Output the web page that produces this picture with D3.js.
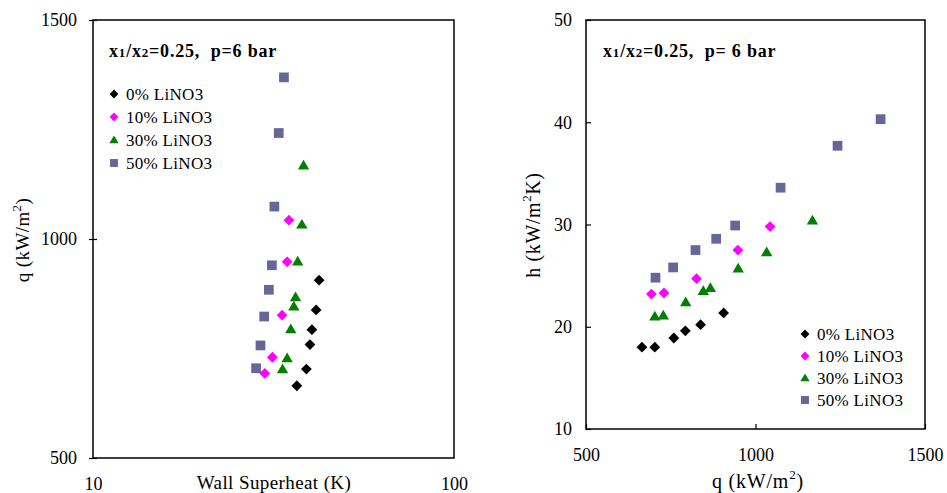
<!DOCTYPE html>
<html>
<head>
<meta charset="utf-8">
<script src="https://cdn.jsdelivr.net/npm/d3@7"></script>
<style>
  html, body { margin: 0; padding: 0; background: #fff; }
  svg { display: block; font-family: "Liberation Serif", "Times New Roman", serif; }
</style>
</head>
<body>
<svg id="chart" width="947" height="493"></svg>
<script>
// Series labels
const seriesNames = ["0% LiNO3", "10% LiNO3", "30% LiNO3", "50% LiNO3"];

// Heat flux q (kW/m2) per series
const q0  = [665, 703, 759, 793, 838, 906];
const q10 = [693, 730, 826, 948, 1043];
const q30 = [703, 728, 794, 846, 867, 949, 1033, 1168];
const q50 = [705, 757, 823, 884, 940, 1074, 1242, 1369];

// Wall superheat (K) per series
const dT0  = [36.7, 39.0, 39.9, 40.4, 41.5, 42.3];
const dT10 = [29.9, 31.4, 33.4, 34.5, 34.9];
const dT30 = [33.5, 34.5, 35.3, 36.0, 36.4, 36.9, 37.9, 38.3];
const dT50 = [28.3, 29.1, 29.8, 30.7, 31.3, 31.8, 32.7, 33.8];

// Heat transfer coefficient h (kW/m2K) per series
const h0  = [18.0, 18.0, 18.9, 19.6, 20.2, 21.35];
const h10 = [23.2, 23.3, 24.7, 27.5, 29.8];
const h30 = [21.0, 21.1, 22.4, 23.5, 23.8, 25.7, 27.3, 30.4];
const h50 = [24.8, 25.8, 27.5, 28.6, 29.9, 33.6, 37.7, 40.3];

// Tick values
const leftXTicks = [10, 100];
const leftYTicks = [500, 1000, 1500];
const rightXTicks = [500, 1000, 1500];
const rightYTicks = [10, 20, 30, 40, 50];

const colors = ["#000000", "#ff00ff", "#008000", "#666699"];
const shapes = ["diamond", "diamond", "triangle", "square"];

const qSets = [q0, q10, q30, q50];
const dTSets = [dT0, dT10, dT30, dT50];
const hSets = [h0, h10, h30, h50];

const svg = d3.select("#chart");
const plain = d3.format("d");

function markerPath(shape, s) {
  if (shape === "diamond") return `M0,${-s}L${s},0L0,${s}L${-s},0Z`;
  if (shape === "triangle") return `M0,${-s * 1.05}L${s * 1.05},${s * 0.75}L${-s * 1.05},${s * 0.75}Z`;
  return `M${-s * 0.9},${-s * 0.9}H${s * 0.9}V${s * 0.9}H${-s * 0.9}Z`;
}

function drawMarkers(g, xs, ys, x, y, i) {
  const pts = xs.map((v, k) => [v, ys[k]]);
  g.selectAll(null).data(pts).enter().append("path")
    .attr("d", markerPath(shapes[i], 5.4))
    .attr("transform", d => `translate(${x(d[0])},${y(d[1])})`)
    .attr("fill", colors[i]);
}

function frame(g, x0, x1, y0, y1) {
  g.append("rect").attr("x", x0).attr("y", y0)
    .attr("width", x1 - x0).attr("height", y1 - y0)
    .attr("fill", "none").attr("stroke", "#000").attr("stroke-width", 1.5);
}

function annotation(g, x, y, tail) {
  const t = g.append("text").attr("x", x).attr("y", y)
    .attr("font-size", 18).attr("font-weight", "bold").attr("letter-spacing", 0.8);
  t.append("tspan").text("x");
  t.append("tspan").attr("font-size", 13).text("1");
  t.append("tspan").text("/x");
  t.append("tspan").attr("font-size", 13).text("2");
  t.append("tspan").text(tail);
}

function legend(g, x, y, step) {
  seriesNames.forEach((name, i) => {
    g.append("path").attr("d", markerPath(shapes[i], 4.4))
      .attr("transform", `translate(${x},${y + i * step})`)
      .attr("fill", colors[i]);
    g.append("text").attr("x", x + 12).attr("y", y + i * step + 5.5)
      .attr("font-size", 17).attr("letter-spacing", 0.3).text(name);
  });
}

function styleTicks(ax) {
  ax.selectAll("text").attr("font-size", 18).attr("font-family", "Liberation Serif").attr("fill", "#000");
}

// ---------- Left panel: q vs wall superheat ----------
const L = { left: 93, right: 454, top: 20, bottom: 458 };
const xL = d3.scaleLog().domain([10, 100]).range([L.left, L.right]);
const yL = d3.scaleLinear().domain([500, 1500]).range([L.bottom, L.top]);
const gL = svg.append("g");

frame(gL, L.left, L.right, L.top, L.bottom);

const axLY = gL.append("g").attr("transform", `translate(${L.left},0)`)
  .call(d3.axisLeft(yL).tickValues(leftYTicks).tickFormat(plain).tickSize(4).tickSizeOuter(0).tickPadding(12));
axLY.select(".domain").remove();
axLY.selectAll(".tick line").attr("x2", 4).attr("x1", -4).attr("stroke-width", 1.2);
styleTicks(axLY);

const axLX = gL.append("g").attr("transform", `translate(0,${L.bottom})`)
  .call(d3.axisBottom(xL).tickValues(leftXTicks).tickFormat(plain).tickSize(0).tickPadding(19));
axLX.select(".domain").remove();
styleTicks(axLX);

gL.append("text").attr("x", 274).attr("y", 489).attr("text-anchor", "middle")
  .attr("font-size", 19).attr("letter-spacing", 0.4).text("Wall Superheat (K)");

const yTitleL = gL.append("text").attr("transform", "translate(29,240) rotate(-90)")
  .attr("text-anchor", "middle").attr("font-size", 19).attr("letter-spacing", 0.4);
yTitleL.append("tspan").text("q (kW/m");
yTitleL.append("tspan").attr("font-size", 13).attr("dy", -8).text("2");
yTitleL.append("tspan").attr("dy", 8).text(")");

annotation(gL, 109, 57, "=0.25,\u00a0\u00a0p=6 bar");
legend(gL, 114, 94, 23);

[0, 1, 2, 3].forEach(i => drawMarkers(gL, dTSets[i], qSets[i], xL, yL, i));

// ---------- Right panel: h vs q ----------
const R = { left: 586, right: 925, top: 20, bottom: 429 };
const xR = d3.scaleLinear().domain([500, 1500]).range([R.left, R.right]);
const yR = d3.scaleLinear().domain([10, 50]).range([R.bottom, R.top]);
const gR = svg.append("g");

frame(gR, R.left, R.right, R.top, R.bottom);

const axRY = gR.append("g").attr("transform", `translate(${R.left},0)`)
  .call(d3.axisLeft(yR).tickValues(rightYTicks).tickFormat(plain).tickSize(-5).tickSizeOuter(0).tickPadding(14));
axRY.select(".domain").remove();
axRY.selectAll(".tick line").attr("stroke-width", 1.2);
styleTicks(axRY);

const axRX = gR.append("g").attr("transform", `translate(0,${R.bottom})`)
  .call(d3.axisBottom(xR).tickValues(rightXTicks).tickFormat(plain).tickSize(-5).tickSizeOuter(0).tickPadding(19));
axRX.select(".domain").remove();
axRX.selectAll(".tick line").attr("stroke-width", 1.2);
styleTicks(axRX);

const xTitleR = gR.append("text").attr("x", 758).attr("y", 488).attr("text-anchor", "middle")
  .attr("font-size", 20).attr("letter-spacing", 0.8);
xTitleR.append("tspan").text("q (kW/m");
xTitleR.append("tspan").attr("font-size", 13).attr("dy", -9).text("2");
xTitleR.append("tspan").attr("dy", 9).text(")");

const yTitleR = gR.append("text").attr("transform", "translate(540,225) rotate(-90)")
  .attr("text-anchor", "middle").attr("font-size", 20).attr("letter-spacing", 0.6);
yTitleR.append("tspan").text("h (kW/m");
yTitleR.append("tspan").attr("font-size", 13).attr("dy", -9).text("2");
yTitleR.append("tspan").attr("dy", 9).text("K)");

annotation(gR, 603, 57, "=0.25,\u00a0\u00a0p= 6 bar");
legend(gR, 805, 334, 22);

[0, 1, 2, 3].forEach(i => drawMarkers(gR, qSets[i], hSets[i], xR, yR, i));
</script>
</body>
</html>
